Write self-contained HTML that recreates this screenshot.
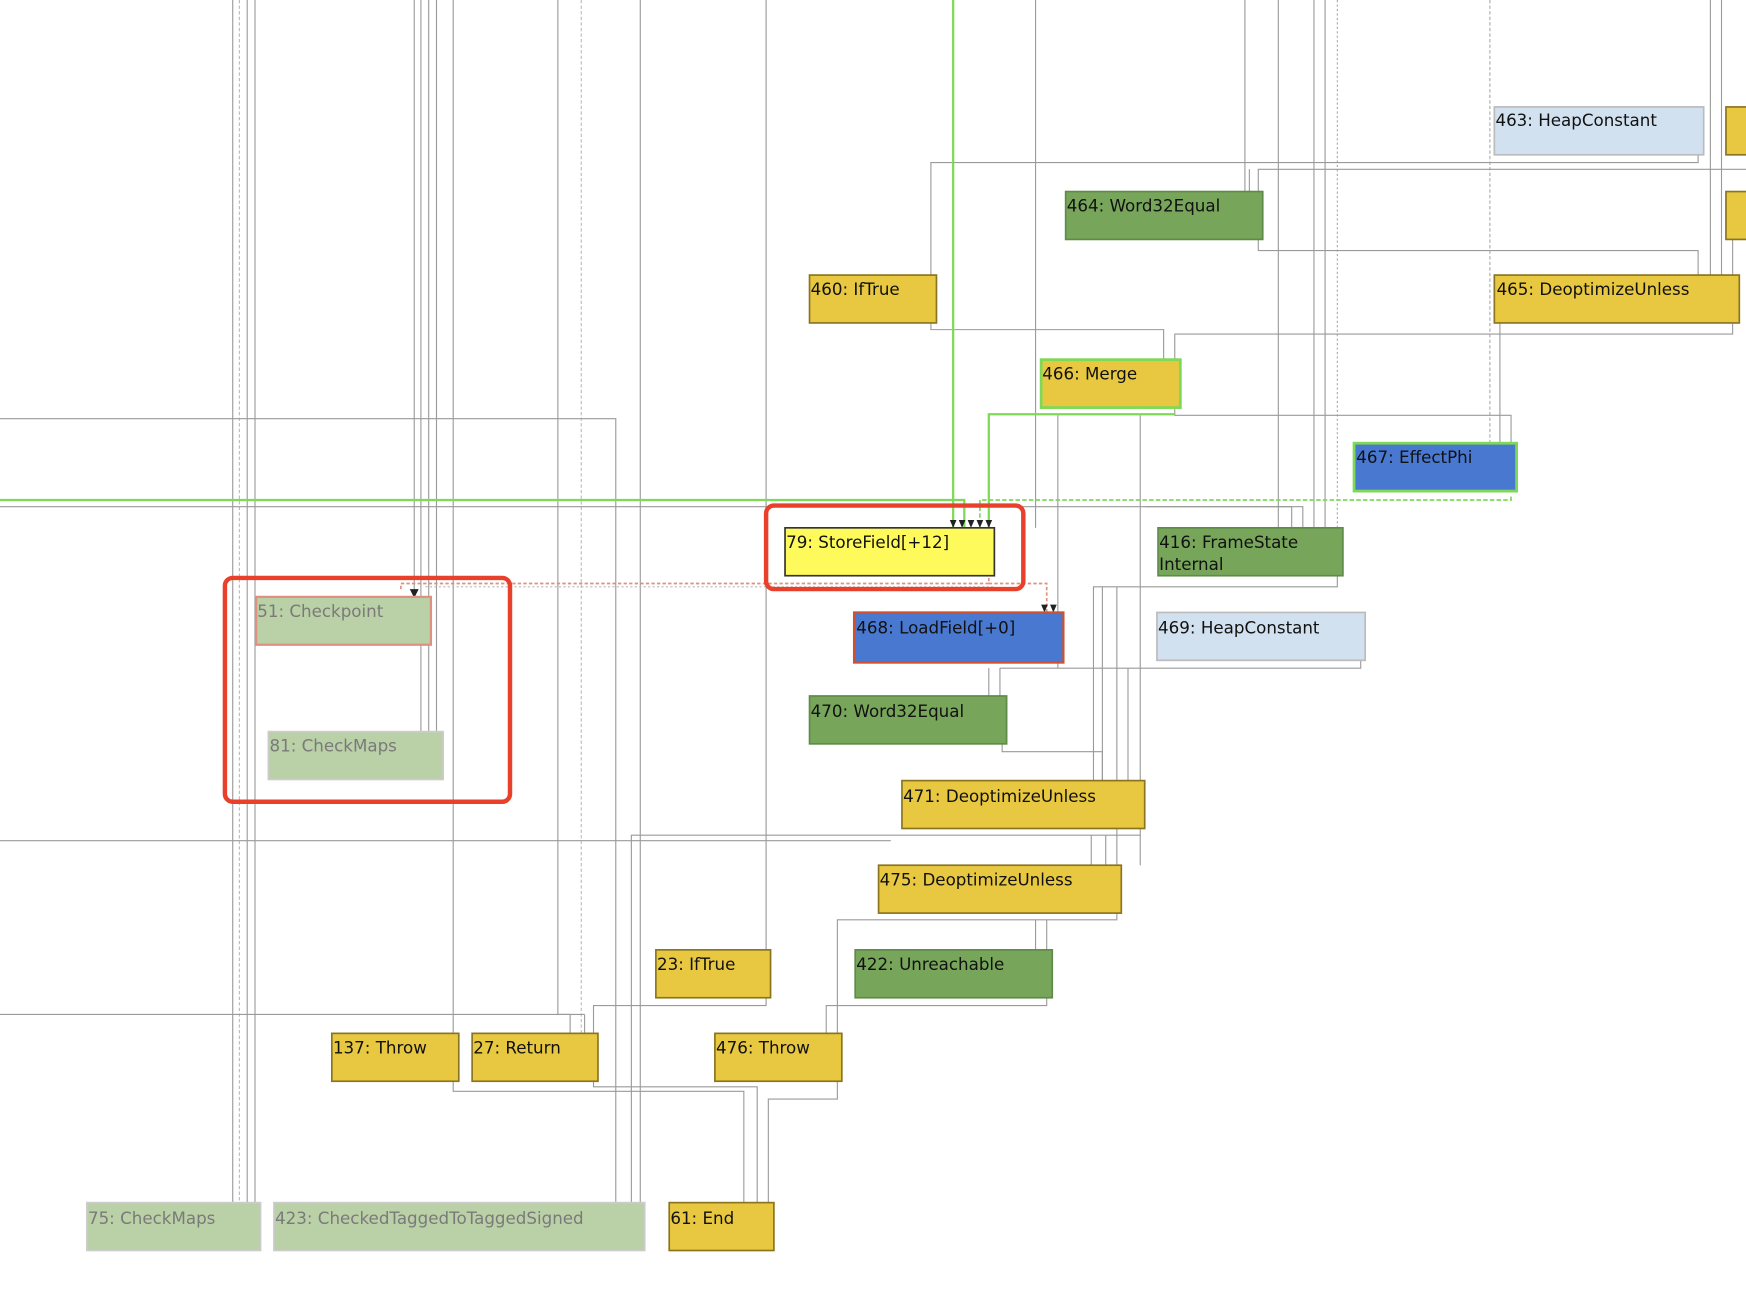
<!DOCTYPE html>
<html><head><meta charset="utf-8"><style>
html,body{margin:0;padding:0;background:#fff;}
svg{display:block;}
text{font-family:"DejaVu Sans","Liberation Sans",sans-serif;font-size:15px;fill:#111;}
.g{fill:#7a7a7a;}
</style></head><body>
<svg width="1746" height="1314" viewBox="0 0 1568 1180" xmlns="http://www.w3.org/2000/svg">
<rect width="1568" height="1180" fill="#fff"/>
<g fill="none" stroke="#9a9a9a" stroke-width="1">
<!-- long verticals left -->
<path d="M209 0V1080M222 0V1080M229 0V1080"/>
<path d="M215 0V1080" stroke-dasharray="3 2" stroke="#bbb"/>
<path d="M372 0V536M378 0V657M385 0V657M392 0V657"/>
<path d="M407 0V928M501 0V911H512V928"/>
<path d="M522 0V928" stroke-dasharray="3 2" stroke="#bbb"/>
<path d="M575 0V1080M688 0V853M930 0V474M1118 0V172M1148 0V474M1180 0V474M1190 0V474"/>
<path d="M1201 0V474" stroke-dasharray="2 2" stroke="#aaa"/>
<path d="M1338 0V398" stroke-dasharray="3 2" stroke="#aaa"/>
<path d="M1536 0V247M1546 0V247"/>
<!-- horizontals -->
<path d="M0 376H553V1080M0 455H1160V474M0 755H800M0 911H525"/>
<path d="M1028 455H1170V474"/>
<!-- top connections -->
<path d="M1525 139V146H836V247M1568 152H1130V172M1122 152V172"/>
<path d="M1130 215V225H1525V247M1556 215V247"/>
<path d="M836 290V296H1045V323M1556 290V300H1055V323"/>
<path d="M1055 366V373H1357V398M1347 290V398"/>
<path d="M950 373V550M1024 373V701"/>
<!-- mid -->
<path d="M1201 517V527H982V701M990 527V701M1003 527V777"/>
<path d="M950 595V600H1013V701M898 600H1222V593"/>
<path d="M888 600V625M898 600V625"/>
<path d="M900 668V675H990V701"/>
<path d="M1024 744V750H567V1080M1024 750V777M980 750V777M993 750V777"/>
<path d="M1003 820V826H752V928M930 826V853M940 826V853"/>
<path d="M688 896V903H533V928M525 911V928"/>
<path d="M940 896V903H742V928"/>
<path d="M407 971V980H668V1080M533 971V976H680V1080M752 971V987H690V1080"/>
</g>
<!-- green lines -->
<g fill="none" stroke="#7ed957" stroke-width="2">
<path d="M856 0V474M0 449H866V474"/>
<path d="M1055 372H888V474"/>
<path d="M1357 446V449H880V474" stroke-dasharray="4 2" stroke-width="1.5"/>
</g>
<!-- red/pink dashed -->
<path d="M888 519V524H940V550M888 524H360V530" fill="none" stroke="#e09080" stroke-dasharray="3 2" stroke-width="1.5"/>
<path d="M892 527H380" fill="none" stroke="#bbb" stroke-dasharray="2 2"/>
<!-- arrowheads -->
<g fill="#222">
<path d="M853 467h6l-3 7zM861 467h6l-3 7zM869 467h6l-3 7zM877 467h6l-3 7zM885 467h6l-3 7z"/>
<path d="M935 543h6l-3 7zM943 543h6l-3 7zM368 529h8l-4 8z"/>
</g>
<!-- nodes -->
<g stroke-width="1.5">
<rect x="1342" y="96" width="188" height="43" fill="#d2e1ef" stroke="#bbb"/>
<rect x="1550" y="96" width="30" height="43" fill="#e8c840" stroke="#8a7420"/>
<rect x="1550" y="172" width="30" height="43" fill="#e8c840" stroke="#8a7420"/>
<rect x="957" y="172" width="177" height="43" fill="#77a55a" stroke="#5f8a48"/>
<rect x="727" y="247" width="114" height="43" fill="#e8c840" stroke="#8a7420"/>
<rect x="1342" y="247" width="220" height="43" fill="#e8c840" stroke="#8a7420"/>
<rect x="935" y="323" width="125" height="43" fill="#e8c840" stroke="#7ed957" stroke-width="2.5"/>
<rect x="1216" y="398" width="146" height="43" fill="#4878d0" stroke="#7ed957" stroke-width="2.5"/>
<rect x="705" y="474" width="188" height="43" fill="#fffa5c" stroke="#333"/>
<rect x="1040" y="474" width="166" height="43" fill="#77a55a" stroke="#5f8a48"/>
<rect x="230" y="536" width="157" height="43" fill="#bad0a6" stroke="#e09080" stroke-width="2"/>
<rect x="767" y="550" width="188" height="45" fill="#4878d0" stroke="#d05030" stroke-width="2"/>
<rect x="1039" y="550" width="187" height="43" fill="#d2e1ef" stroke="#bbb"/>
<rect x="727" y="625" width="177" height="43" fill="#77a55a" stroke="#5f8a48"/>
<rect x="241" y="657" width="157" height="43" fill="#bad0a6" stroke="#ccc"/>
<rect x="810" y="701" width="218" height="43" fill="#e8c840" stroke="#8a7420"/>
<rect x="789" y="777" width="218" height="43" fill="#e8c840" stroke="#8a7420"/>
<rect x="589" y="853" width="103" height="43" fill="#e8c840" stroke="#8a7420"/>
<rect x="768" y="853" width="177" height="43" fill="#77a55a" stroke="#5f8a48"/>
<rect x="298" y="928" width="114" height="43" fill="#e8c840" stroke="#8a7420"/>
<rect x="424" y="928" width="113" height="43" fill="#e8c840" stroke="#8a7420"/>
<rect x="642" y="928" width="114" height="43" fill="#e8c840" stroke="#8a7420"/>
<rect x="78" y="1080" width="156" height="43" fill="#bad0a6" stroke="#ccc"/>
<rect x="246" y="1080" width="333" height="43" fill="#bad0a6" stroke="#ccc"/>
<rect x="601" y="1080" width="94" height="43" fill="#e8c840" stroke="#8a7420"/>
</g>
<!-- highlight boxes -->
<rect x="688" y="454" width="231" height="75" rx="7" fill="none" stroke="#e8402a" stroke-width="4"/>
<rect x="202" y="519" width="256" height="201" rx="7" fill="none" stroke="#e8402a" stroke-width="4"/>
<!-- labels -->
<text x="1343" y="113">463: HeapConstant</text>
<text x="958" y="190">464: Word32Equal</text>
<text x="728" y="265">460: IfTrue</text>
<text x="1344" y="265">465: DeoptimizeUnless</text>
<text x="936" y="341">466: Merge</text>
<text x="1218" y="416">467: EffectPhi</text>
<text x="706" y="492">79: StoreField[+12]</text>
<text x="1041" y="492">416: FrameState</text>
<text x="1041" y="512">Internal</text>
<text x="231" y="554" class="g">51: Checkpoint</text>
<text x="769" y="569">468: LoadField[+0]</text>
<text x="1040" y="569">469: HeapConstant</text>
<text x="728" y="644">470: Word32Equal</text>
<text x="242" y="675" class="g">81: CheckMaps</text>
<text x="811" y="720">471: DeoptimizeUnless</text>
<text x="790" y="795">475: DeoptimizeUnless</text>
<text x="590" y="871">23: IfTrue</text>
<text x="769" y="871">422: Unreachable</text>
<text x="299" y="946">137: Throw</text>
<text x="425" y="946">27: Return</text>
<text x="643" y="946">476: Throw</text>
<text x="79" y="1099" class="g">75: CheckMaps</text>
<text x="247" y="1099" class="g">423: CheckedTaggedToTaggedSigned</text>
<text x="602" y="1099">61: End</text>
</svg>
</body></html>
